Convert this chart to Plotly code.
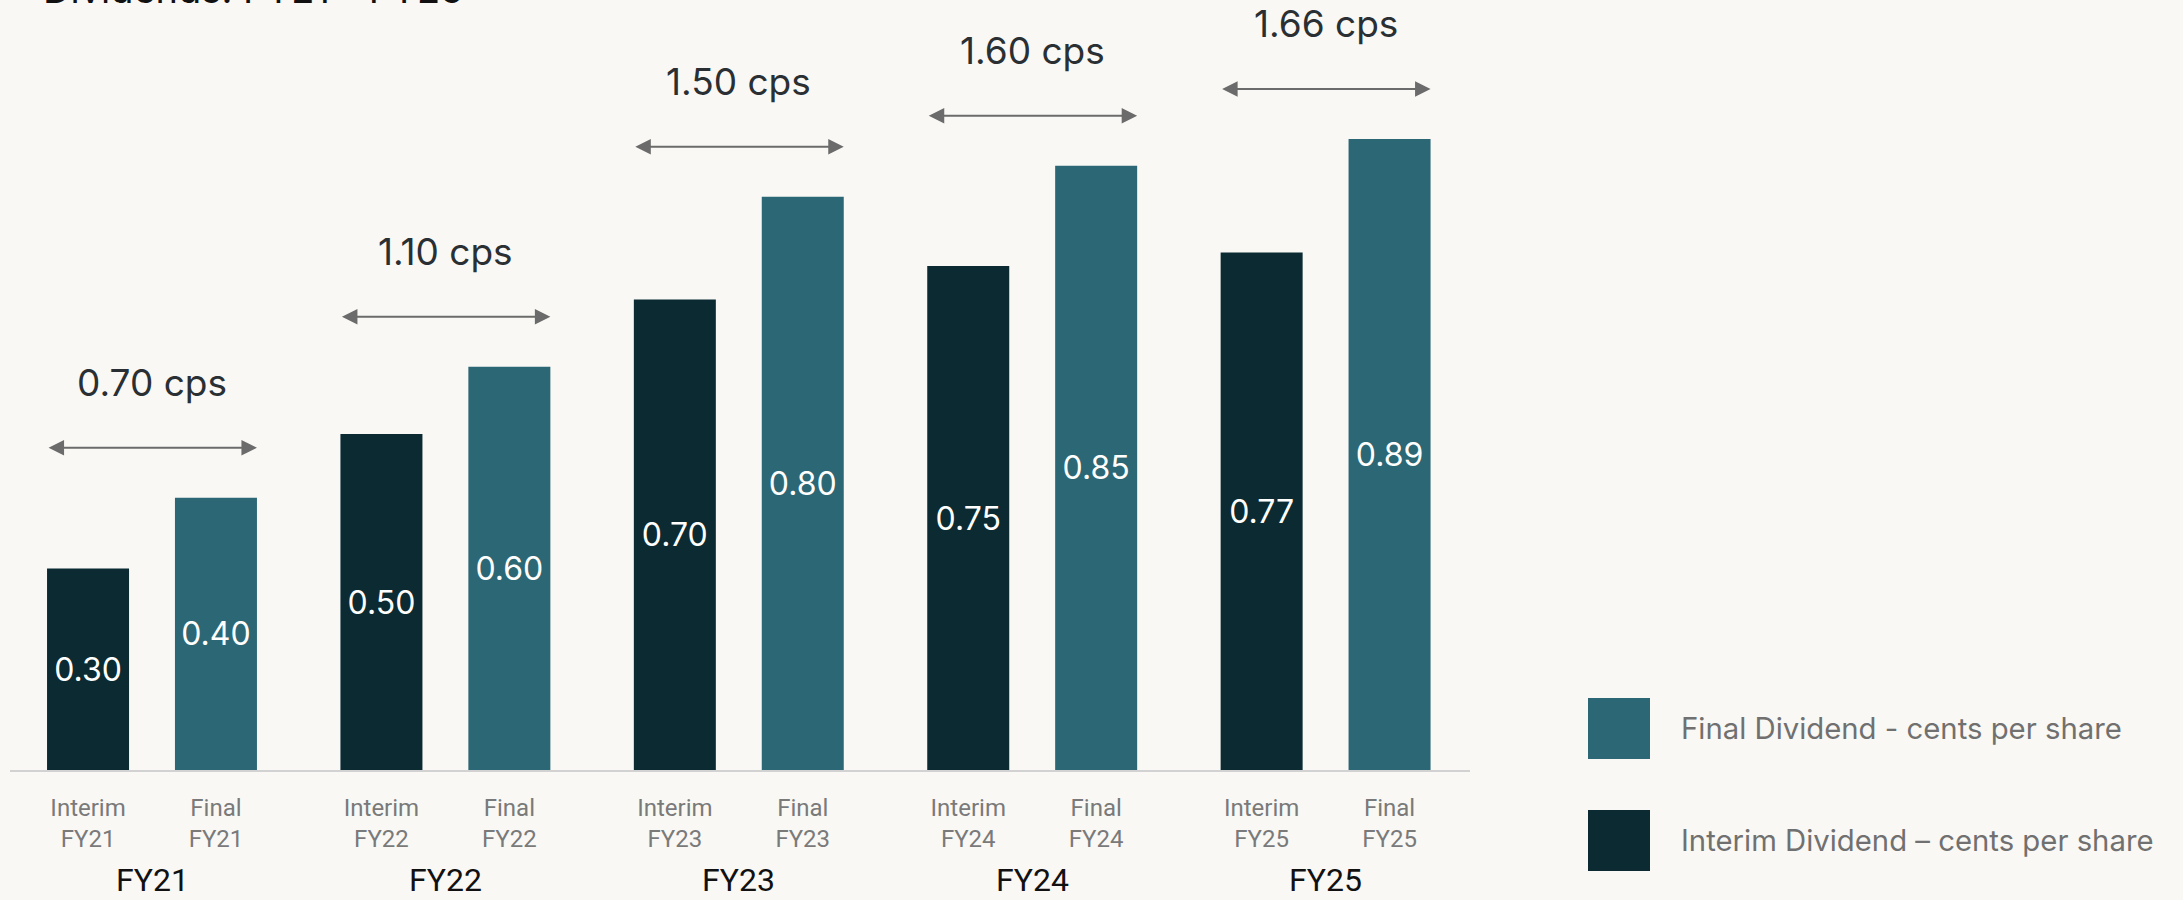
import plotly.graph_objects as go

# ---------------- data ----------------
years = ["FY21", "FY22", "FY23", "FY24", "FY25"]
interim_cps = [0.30, 0.50, 0.70, 0.75, 0.77]          # interim dividend labels (cps)
final_cps = [0.40, 0.60, 0.80, 0.85, 0.89]            # final dividend labels (cps)
interim_bar_height = [0.30, 0.50, 0.70, 0.75, 0.77]   # bar heights as drawn
final_bar_height = [0.405, 0.60, 0.853, 0.899, 0.939] # bar heights as drawn
interim_ticks = ["Interim<br>" + y for y in years]
final_ticks = ["Final<br>" + y for y in years]
legend_names = ["Final Dividend - cents per share", "Interim Dividend \u2013 cents per share"]
title_text = "Dividends: FY21 - FY25"

# ---------------- style / geometry ----------------
W, H = 2183, 900
C_INTERIM = "#0b2a32"
C_FINAL = "#2c6775"
BG = "#f9f8f5"
PL, PR, PB = 10, 1470, 770      # plot area pixels (left, right, bottom); top = 0
X0PX, XSTEP = 152, 293.4        # pixel of first group centre, pixels per group
PX_PER_UNIT = 672.0
OFF, BW = 0.218, 0.2795         # bar offset / width in group units

x_range = [(PL - X0PX) / XSTEP, (PR - X0PX) / XSTEP]
y_range = [0, PB / PX_PER_UNIT]

def xp(px):
    return (px - PL) / (PR - PL)

def yp(py):
    return (PB - py) / PB

xi = [i - OFF for i in range(len(years))]
xf = [i + OFF for i in range(len(years))]

fig = go.Figure()
fig.add_trace(go.Bar(
    x=xi, y=interim_bar_height, width=BW, marker=dict(color=C_INTERIM, line=dict(width=0)),
    text=[f"{v:.2f}" for v in interim_cps], textposition="inside", insidetextanchor="middle",
    textangle=0, textfont=dict(family="Inter", size=32, color="white"),
    name=legend_names[1], showlegend=False, cliponaxis=False, hoverinfo="skip"))
fig.add_trace(go.Bar(
    x=xf, y=final_bar_height, width=BW, marker=dict(color=C_FINAL, line=dict(width=0)),
    text=[f"{v:.2f}" for v in final_cps], textposition="inside", insidetextanchor="middle",
    textangle=0, textfont=dict(family="Inter", size=32, color="white"),
    name=legend_names[0], showlegend=False, cliponaxis=False, hoverinfo="skip"))

annotations = []
# totals with double arrows
for i, y in enumerate(years):
    top = max(interim_bar_height[i], final_bar_height[i])
    left = xi[i] - BW / 2
    right = xf[i] + BW / 2
    annotations.append(dict(
        x=right, y=top, ax=left, ay=top, xref="x", yref="y", axref="x", ayref="y",
        text="", showarrow=True, arrowside="end+start", arrowhead=2, startarrowhead=2,
        arrowsize=1.55, startarrowsize=1.55, arrowwidth=2, arrowcolor="#6b6b6b",
        standoff=0, startstandoff=0, yshift=50))
    total = interim_cps[i] + final_cps[i]
    annotations.append(dict(
        x=i, y=top, xref="x", yref="y", text=f"{total:.2f} cps", showarrow=False,
        yanchor="middle", yshift=115, font=dict(family="Inter", size=37, color="#2a2f33")))
    # group labels
    annotations.append(dict(
        x=i, y=0, xref="x", yref="paper", text=y, showarrow=False,
        yanchor="middle", yshift=-110, font=dict(family="Roboto", size=32, color="#111111")))

# title (cut off at top in the reference)
annotations.append(dict(
    x=xp(41), y=1, xref="paper", yref="paper", xanchor="left", yanchor="bottom",
    text=title_text, showarrow=False, yshift=-14,
    font=dict(family="Inter", size=38, color="#111111")))

# manual legend
shapes = []
legend_rows = [(698, 759, C_FINAL, legend_names[0]), (810, 871, C_INTERIM, legend_names[1])]
for y0, y1, col, name in legend_rows:
    shapes.append(dict(type="rect", xref="paper", yref="paper",
                       x0=xp(1588), x1=xp(1650), y0=yp(y1), y1=yp(y0),
                       fillcolor=col, line=dict(width=0)))
    annotations.append(dict(
        x=xp(1679), y=yp((y0 + y1) / 2), xref="paper", yref="paper", xanchor="left",
        yanchor="middle", text=name, showarrow=False,
        font=dict(family="Inter", size=29.3, color="#707070")))

fig.update_layout(
    width=W, height=H, autosize=False,
    margin=dict(l=PL, r=W - PR, t=0, b=H - PB, pad=0),
    paper_bgcolor=BG, plot_bgcolor=BG,
    barmode="overlay", showlegend=False,
    xaxis=dict(range=x_range, tickmode="array", tickvals=xi + xf, ticktext=interim_ticks + final_ticks,
               showgrid=False, zeroline=False, showline=True, linecolor="#d2d2d2", linewidth=2,
               ticks="", ticklabelstandoff=15,
               tickfont=dict(family="Roboto", size=24, color="#7a7a7a"), fixedrange=True),
    yaxis=dict(range=y_range, visible=False, showgrid=False, zeroline=False, fixedrange=True),
    annotations=annotations, shapes=shapes,
)

fig.write_html("out.html")
